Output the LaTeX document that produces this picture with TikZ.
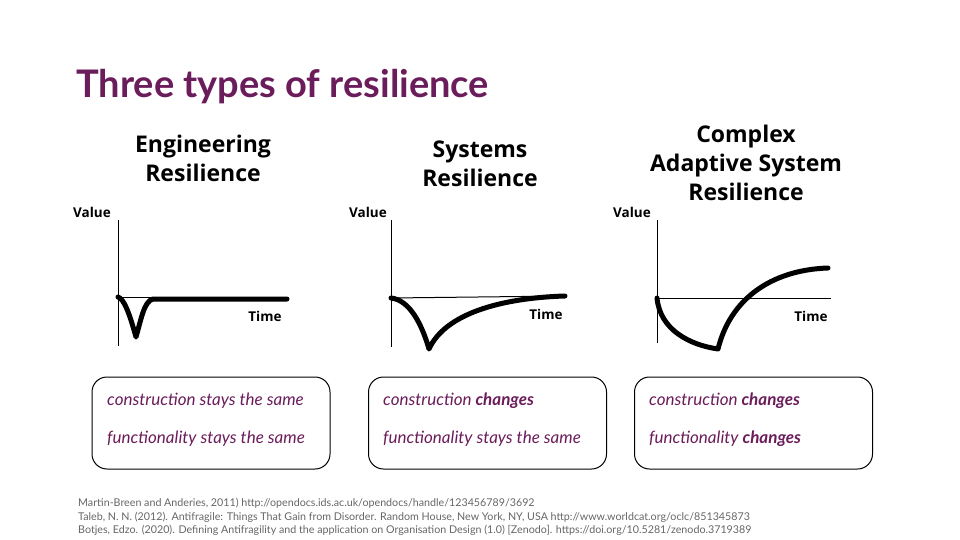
\documentclass[tikz,border=0pt]{standalone}
\usepackage{fontspec}
\setmainfont{Lato}
\newfontfamily\headfont{Open Sans}
\usepackage{tikz}
\usepackage{xcolor}
\usetikzlibrary{calc}

\definecolor{plum}{RGB}{107,28,90}
\definecolor{refgray}{RGB}{102,102,102}

\tikzset{
  heading/.style={align=center, font=\headfont\bfseries\fontsize{23}{29}\selectfont, inner sep=0pt},
  axislabel/.style={font=\headfont\bfseries\fontsize{13.5}{15}\selectfont, inner sep=0pt},
  axis/.style={line width=1pt},
  baseline/.style={line width=1pt},
  curve/.style={line width=5pt, line cap=round, line join=round},
  infobox/.style={draw, line width=1pt, rounded corners=15pt, minimum width=238pt, minimum height=92pt},
  infotext/.style={anchor=west, text=plum, font=\itshape\fontsize{17}{20}\selectfont, inner sep=0pt},
  source/.style={anchor=west, text=refgray, font=\fontsize{10.7}{12}\selectfont, inner sep=0pt}
}

\begin{document}
\begin{tikzpicture}[x=1pt, y=-1pt]
    \useasboundingbox (0,0) rectangle (960,540);

    \node[anchor=west, text=plum, font=\bfseries\fontsize{38}{42}\selectfont, inner sep=0pt] (title) at (76,87) {Three types of resilience};

    % engineering resilience
    \node[heading] (engHead) at (203,158) {Engineering\\Resilience};
    \node[axislabel] (engValue) at (92,212) {Value};
    \node[axislabel] (engTime) at (265,316) {Time};
    \draw[axis] (118,220) -- (118,346);
    \draw[baseline] (118,297) -- (152,297);
    \draw[curve] (118,297) .. controls (124,299) and (129,312) .. (136,337)
        .. controls (141,320) and (144,301) .. (153,299) -- (287,299);

    % systems resilience
    \node[heading] (sysHead) at (480,164) {Systems\\Resilience};
    \node[axislabel] (sysValue) at (368,212) {Value};
    \node[axislabel] (sysTime) at (546,314) {Time};
    \draw[axis] (391,220) -- (391,347);
    \draw[baseline] (391,298) -- (565,296);
    \draw[curve] (391,298) .. controls (410,300) and (422,325) .. (429,349)
        .. controls (445,314) and (500,298) .. (565,296);

    % complex adaptive system resilience
    \node[heading] (casHead) at (746,163) {Complex\\Adaptive System\\Resilience};
    \node[axislabel] (casValue) at (632,212) {Value};
    \node[axislabel] (casTime) at (811,316) {Time};
    \draw[axis] (657,220) -- (657,343);
    \draw[baseline] (657,298) -- (831,298);
    \draw[curve] (657,298) .. controls (660,330) and (690,345) .. (718,349)
        .. controls (730,300) and (770,270) .. (828,268);

    % boxes
    \node[infobox] (engBox) at (211,423) {};
    \node[infobox] (sysBox) at (487.5,423) {};
    \node[infobox] (casBox) at (753.5,423) {};

    \node[infotext] (engCon) at (107,401) {construction stays the same};
    \node[infotext] (engFun) at (107,439) {functionality stays the same};
    \node[infotext] (sysCon) at (383,401) {construction \textbf{changes}};
    \node[infotext] (sysFun) at (383,439) {functionality stays the same};
    \node[infotext] (casCon) at (649,401) {construction \textbf{changes}};
    \node[infotext] (casFun) at (649,439) {functionality \textbf{changes}};

    % sources
    \node[source] (srcA) at (78,503) {Martin-Breen and Anderies, 2011) http://opendocs.ids.ac.uk/opendocs/handle/123456789/3692};
    \node[source] (srcB) at (78,517) {Taleb, N. N. (2012). Antifragile: Things That Gain from Disorder. Random House, New York, NY, USA http://www.worldcat.org/oclc/851345873};
    \node[source] (srcC) at (78,530) {Botjes, Edzo. (2020). Defining Antifragility and the application on Organisation Design (1.0) [Zenodo]. https://doi.org/10.5281/zenodo.3719389};
\end{tikzpicture}
\end{document}
